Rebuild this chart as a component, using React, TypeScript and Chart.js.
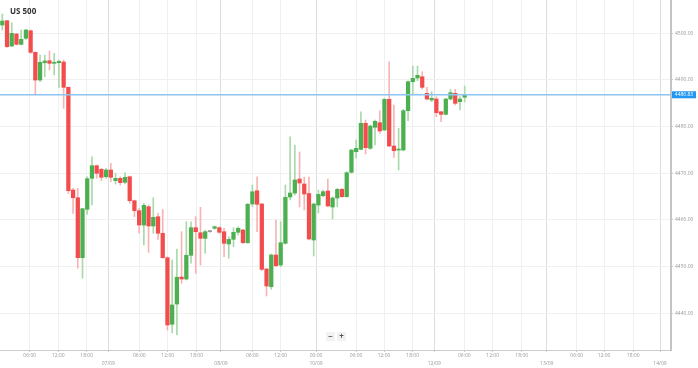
import React, { useEffect, useRef } from "react";
import { Chart, registerables } from "chart.js";
Chart.register(...registerables);

const title = "US 500";
const lastPrice = 4486.83;

const opens = [4501.78, 4502.70, 4497.28, 4499.85, 4497.64, 4498.93, 4500.56, 4495.93, 4489.99, 4493.70, 4494.13, 4493.57, 4493.70, 4493.85, 4488.43, 4466.42, 4464.77, 4451.92, 4462.29, 4468.93, 4471.63, 4470.86, 4469.27, 4470.71, 4468.42, 4468.93, 4468.07, 4469.27, 4464.13, 4461.99, 4458.92, 4462.85, 4458.71, 4460.70, 4457.15, 4451.92, 4437.65, 4441.99, 4447.78, 4447.35, 4452.43, 4458.35, 4457.27, 4456.07, 4457.50, 4458.22, 4458.35, 4457.49, 4454.85, 4455.86, 4457.36, 4457.85, 4455.13, 4463.42, 4466.27, 4463.42, 4449.50, 4445.70, 4452.50, 4450.35, 4455.00, 4464.92, 4465.78, 4468.78, 4467.71, 4465.67, 4455.71, 4463.21, 4465.20, 4466.21, 4462.78, 4464.71, 4466.57, 4464.99, 4470.22, 4474.63, 4475.14, 4480.72, 4475.36, 4479.86, 4480.85, 4479.28, 4485.86, 4475.85, 4474.99, 4474.99, 4483.42, 4489.63, 4490.42, 4490.70, 4487.14, 4485.71, 4485.92, 4483.20, 4482.64, 4485.92, 4487.14, 4485.35, 4486.30];
const highs = [4504.14, 4502.80, 4502.27, 4500.00, 4500.71, 4500.86, 4500.71, 4496.00, 4495.35, 4495.35, 4496.21, 4495.71, 4494.28, 4494.28, 4488.50, 4466.79, 4466.79, 4462.50, 4469.27, 4473.56, 4471.78, 4471.07, 4471.07, 4472.14, 4470.00, 4469.27, 4470.13, 4469.42, 4464.28, 4462.50, 4463.57, 4463.21, 4464.77, 4461.43, 4462.29, 4452.13, 4451.42, 4453.78, 4457.49, 4459.63, 4459.63, 4460.70, 4462.72, 4457.85, 4457.85, 4458.71, 4458.56, 4458.22, 4456.42, 4458.35, 4458.56, 4458.00, 4463.57, 4467.50, 4469.27, 4463.57, 4449.65, 4452.71, 4460.00, 4459.63, 4467.50, 4477.84, 4476.07, 4474.57, 4469.21, 4469.21, 4463.64, 4466.42, 4466.42, 4468.78, 4464.99, 4466.79, 4466.79, 4470.34, 4475.14, 4477.14, 4483.20, 4481.42, 4480.35, 4481.42, 4483.42, 4486.07, 4493.91, 4484.63, 4479.64, 4483.72, 4489.84, 4492.99, 4492.99, 4491.77, 4488.43, 4487.49, 4486.42, 4483.20, 4486.07, 4488.00, 4488.00, 4486.42, 4488.71];
const lows = [4500.71, 4497.00, 4497.13, 4497.49, 4497.49, 4498.71, 4495.71, 4486.78, 4489.63, 4490.70, 4492.14, 4491.06, 4488.43, 4483.93, 4465.72, 4461.43, 4449.65, 4447.50, 4461.22, 4463.21, 4468.93, 4468.42, 4468.93, 4468.20, 4467.71, 4467.50, 4467.71, 4463.57, 4460.70, 4457.15, 4454.64, 4453.07, 4457.15, 4455.86, 4451.79, 4436.42, 4435.78, 4435.35, 4446.43, 4447.14, 4450.72, 4448.57, 4450.35, 4452.86, 4457.36, 4458.00, 4457.15, 4452.13, 4451.79, 4454.28, 4456.78, 4455.00, 4455.00, 4462.85, 4457.49, 4449.13, 4443.71, 4445.14, 4449.99, 4449.99, 4454.85, 4464.28, 4465.35, 4462.78, 4462.14, 4455.71, 4452.28, 4461.50, 4464.92, 4462.78, 4460.21, 4462.85, 4464.86, 4464.86, 4470.00, 4473.22, 4474.99, 4474.14, 4475.14, 4476.07, 4478.57, 4479.13, 4475.70, 4473.43, 4470.71, 4474.84, 4481.27, 4486.78, 4489.84, 4488.06, 4485.71, 4485.34, 4482.13, 4481.06, 4482.50, 4485.71, 4484.63, 4483.57, 4485.28];
const closes = [4502.64, 4497.13, 4500.00, 4497.64, 4498.71, 4500.71, 4495.93, 4489.99, 4493.79, 4494.07, 4493.57, 4493.79, 4494.00, 4488.43, 4466.27, 4464.77, 4451.92, 4462.42, 4468.85, 4471.63, 4470.00, 4469.15, 4470.71, 4469.15, 4468.93, 4467.99, 4469.15, 4464.13, 4461.99, 4458.92, 4463.14, 4458.71, 4460.57, 4457.15, 4451.92, 4437.50, 4441.79, 4447.72, 4447.35, 4452.43, 4458.35, 4457.49, 4456.07, 4457.49, 4457.50, 4458.56, 4457.36, 4455.00, 4455.86, 4457.36, 4458.22, 4455.13, 4463.36, 4466.06, 4463.36, 4449.43, 4445.85, 4452.50, 4450.20, 4455.13, 4464.86, 4465.78, 4468.57, 4467.92, 4465.57, 4455.93, 4463.42, 4465.50, 4466.06, 4463.00, 4464.71, 4466.57, 4464.99, 4470.13, 4474.99, 4475.36, 4480.72, 4475.49, 4480.14, 4481.14, 4479.07, 4485.86, 4475.85, 4474.84, 4475.14, 4483.42, 4489.63, 4490.36, 4491.00, 4488.43, 4485.92, 4486.07, 4482.99, 4482.64, 4485.92, 4487.27, 4485.00, 4485.92, 4486.83];

const yTicks = [4440, 4450, 4460, 4470, 4480, 4490, 4500];
const xTickSlots = [5.81, 11.87, 17.89, 22.47, 29.04, 35.06, 41.2, 46.35, 52.99, 59.01, 66.49, 74.97, 80.9, 86.98, 91.56, 97.92, 103.94, 110.09, 115.39, 121.75, 127.53, 133.74, 139.4];
const xTickTimes = ["06:00", "12:00", "18:00", "", "06:00", "12:00", "18:00", "", "06:00", "12:00", "00:00", "06:00", "12:00", "18:00", "", "06:00", "12:00", "18:00", "", "06:00", "12:00", "18:00", ""];
const xTickDates = ["", "", "", "07/09", "", "", "", "08/09", "", "", "10/09", "", "", "", "12/09", "", "", "", "13/09", "", "", "", "14/09"];

const X_MIN = -0.49;
const X_MAX = 141.73;
const Y_MIN = 4432.14;
const Y_MAX = 4507.14;

const GREEN = "#4caf50";
const RED = "#f24c4c";
const GREEN_W = "#a9d9aa";
const RED_W = "#f8b4b4";
const FONT = "'Open Sans', 'Liberation Sans', sans-serif";

const overlay = {
  id: "overlay",
  afterDraw(chart: any) {
    const ctx = chart.ctx;
    const area = chart.chartArea;
    const y = chart.scales.y.getPixelForValue(lastPrice);
    ctx.save();
    ctx.fillStyle = "#2196f3";
    ctx.fillRect(area.right + 1, y - 3.5, 24, 7);
    ctx.fillStyle = "#ffffff";
    ctx.font = "5px " + FONT;
    ctx.textAlign = "center";
    ctx.textBaseline = "middle";
    ctx.fillText(lastPrice.toFixed(2), area.right + 13, y);
    ctx.fillStyle = "#333333";
    ctx.font = "bold 8px " + FONT;
    ctx.textAlign = "left";
    ctx.fillText(title, 10, 12);
    // zoom buttons
    ctx.fillStyle = "#f2f2f2";
    ctx.fillRect(326, 332, 9, 9);
    ctx.fillRect(337, 332, 9, 9);
    ctx.fillStyle = "#555";
    ctx.font = "bold 8px " + FONT;
    ctx.textAlign = "center";
    ctx.fillText("\u2212", 330.5, 336.5);
    ctx.fillText("+", 341.5, 336.5);
    ctx.restore();
  },
};

export default function App() {
  const ref = useRef<HTMLCanvasElement | null>(null);
  useEffect(() => {
    if (!ref.current) return;
    const idx = opens.map((_, i) => i);
    const up = (i: number) => closes[i] > opens[i];
    const flat = (i: number) => closes[i] === opens[i];
    const chart = new Chart(ref.current, {
      type: "bar",
      data: {
        datasets: [
          {
            type: "line",
            data: [
              { x: X_MIN, y: lastPrice },
              { x: X_MAX, y: lastPrice },
            ],
            borderColor: "#8cc4f2",
            borderWidth: 1.5,
            pointRadius: 0,
            order: 0,
          } as any,
          {
            data: idx.map((i) => ({ x: i, y: [opens[i], closes[i]] })),
            backgroundColor: (c: any) => (flat(c.dataIndex) ? "#999" : up(c.dataIndex) ? GREEN : RED),
            barThickness: 3.6,
            minBarLength: 1,
            grouped: false,
            borderWidth: 0,
            order: 1,
          } as any,
          {
            data: idx.map((i) => ({ x: i, y: [lows[i], highs[i]] })),
            backgroundColor: (c: any) => (flat(c.dataIndex) ? "#ccc" : up(c.dataIndex) ? GREEN_W : RED_W),
            barThickness: 1,
            grouped: false,
            borderWidth: 0,
            order: 2,
          } as any,
        ],
      },
      options: {
        animation: false,
        responsive: false,
        maintainAspectRatio: false,
        events: [],
        layout: { padding: 0 },
        plugins: { legend: { display: false }, tooltip: { enabled: false } },
        scales: {
          x: {
            type: "linear",
            min: X_MIN,
            max: X_MAX,
            offset: false,
            grid: {
              offset: false,
              color: (c: any) => (xTickDates[c.index] ? "#dedede" : "#f0f0f0"),
              tickColor: "#c8c8c8",
              tickLength: 2,
            },
            border: { display: true, color: "#cccccc" },
            ticks: {
              autoSkip: false,
              maxRotation: 0,
              minRotation: 0,
              padding: 0,
              color: "#999",
              font: { size: 5, family: FONT, lineHeight: 1.5 },
              callback: (_v: any, i: number) => [xTickTimes[i], xTickDates[i]],
            },
            afterBuildTicks: (s: any) => {
              s.ticks = xTickSlots.map((v) => ({ value: v }));
            },
            afterFit: (s: any) => {
              s.height = 18;
              s.paddingLeft = 0;
              s.paddingRight = 0;
            },
          },
          y: {
            type: "linear",
            position: "right",
            min: Y_MIN,
            max: Y_MAX,
            grid: { color: "#f0f0f0", tickColor: "#c8c8c8", tickLength: 2 },
            border: { display: true, color: "#c4c4c4", width: 2 },
            ticks: {
              padding: 2,
              color: "#999",
              font: { size: 5, family: FONT },
              callback: (v: any) => Number(v).toFixed(2),
            },
            afterBuildTicks: (s: any) => {
              s.ticks = yTicks.map((v) => ({ value: v }));
            },
            afterFit: (s: any) => {
              s.width = 27;
              s.paddingTop = 0;
              s.paddingBottom = 0;
            },
          },
        },
      } as any,
      plugins: [overlay],
    });
    return () => chart.destroy();
  }, []);
  return (
    <div style={{ position: "fixed", left: 0, top: 0, width: 698, height: 368, background: "#fff" }}>
      <canvas ref={ref} width={698} height={368} style={{ display: "block", width: 698, height: 368 }} />
    </div>
  );
}
